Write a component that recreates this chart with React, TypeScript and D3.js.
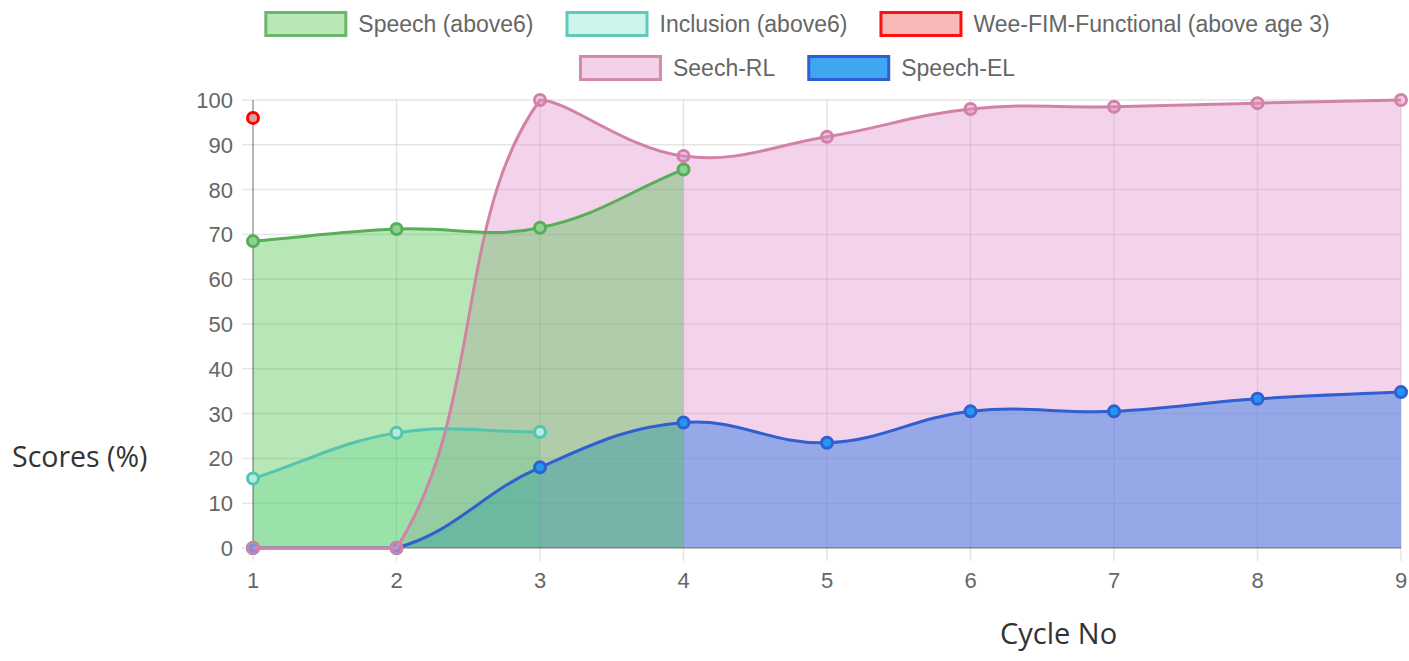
import React, { useEffect, useRef } from "react";
import * as d3 from "d3";

const cycles = [1, 2, 3, 4, 5, 6, 7, 8, 9];
const speech = [68.5, 71.2, 71.5, 84.5];
const inclusion = [15.5, 25.7, 25.9];
const weeFim = [96];
const seechRL = [0, 0, 100, 87.5, 91.8, 98, 98.5, 99.3, 100];
const speechEL = [0, 0, 18, 28, 23.5, 30.5, 30.5, 33.3, 34.8];
const yTicks = [0, 10, 20, 30, 40, 50, 60, 70, 80, 90, 100];

const W = 1409;
const H = 661;

type Pt = { x: number; y: number };

// chart.js style spline (tension 0.4, control points capped to chart area)
function splinePath(pts: Pt[], t: number, area: { l: number; r: number; t: number; b: number }) {
  const cap = (p: Pt) => ({
    x: Math.max(area.l, Math.min(area.r, p.x)),
    y: Math.max(area.t, Math.min(area.b, p.y)),
  });
  const cps = pts.map((cur, i) => {
    const prev = pts[i - 1] || cur;
    const next = pts[i + 1] || cur;
    const d01 = Math.hypot(cur.x - prev.x, cur.y - prev.y);
    const d12 = Math.hypot(next.x - cur.x, next.y - cur.y);
    let s01 = d01 / (d01 + d12);
    let s12 = d12 / (d01 + d12);
    if (isNaN(s01)) s01 = 0;
    if (isNaN(s12)) s12 = 0;
    const fa = t * s01;
    const fb = t * s12;
    return {
      p: cap({ x: cur.x - fa * (next.x - prev.x), y: cur.y - fa * (next.y - prev.y) }),
      n: cap({ x: cur.x + fb * (next.x - prev.x), y: cur.y + fb * (next.y - prev.y) }),
    };
  });
  const path = d3.path();
  pts.forEach((p, i) => {
    if (i === 0) path.moveTo(p.x, p.y);
    else path.bezierCurveTo(cps[i - 1].n.x, cps[i - 1].n.y, cps[i].p.x, cps[i].p.y, p.x, p.y);
  });
  return path.toString();
}

// drawn bottom to top
const series = [
  { name: "Seech-RL", data: seechRL, line: "#d283a5", area: "rgba(225,142,207,0.4)", point: "rgba(225,142,207,0.45)", legendFill: "#f3d1eb", legendStroke: "#d48aa9" },
  { name: "Speech-EL", data: speechEL, line: "#2f5fd0", area: "rgba(57,126,228,0.5)", point: "#2196f3", legendFill: "#3fa6f2", legendStroke: "#2f5fd0" },
  { name: "Wee-FIM-Functional (above age 3)", data: weeFim, line: "#ff0000", area: "none", point: "#d9a0a0", legendFill: "#f8b9b9", legendStroke: "#ff1010" },
  { name: "Inclusion (above6)", data: inclusion, line: "#55c4ad", area: "rgba(67,215,167,0.25)", point: "#b4ebdf", legendFill: "#ccf5ee", legendStroke: "#62c9b8" },
  { name: "Speech (above6)", data: speech, line: "#58ad58", area: "rgba(75,195,75,0.4)", point: "#8fd28f", legendFill: "#b8e7b8", legendStroke: "#6cb66c" },
];
// line order (bottom to top)
const lineOrder = ["Speech-EL", "Seech-RL", "Wee-FIM-Functional (above age 3)", "Inclusion (above6)", "Speech (above6)"];

const legendRows = [
  ["Speech (above6)", "Inclusion (above6)", "Wee-FIM-Functional (above age 3)"],
  ["Seech-RL", "Speech-EL"],
];

const App = () => {
  const ref = useRef<SVGSVGElement>(null);

  useEffect(() => {
    const svg = d3.select(ref.current);
    svg.selectAll("*").remove();

    const left = 253;
    const right = 1401;
    const top = 100;
    const bottom = 548;
    const x = d3.scaleLinear().domain([1, 9]).range([left, right]);
    const y = d3.scaleLinear().domain([0, 100]).range([bottom, top]);
    const area = { l: left, r: right, t: top, b: bottom };

    const font = "'Liberation Sans', Arial, sans-serif";
    const byName = new Map(series.map((s) => [s.name, s]));

    // grid
    const grid = svg.append("g");
    grid
      .selectAll("line.h")
      .data(yTicks)
      .enter()
      .append("line")
      .attr("x1", left - 11)
      .attr("x2", right)
      .attr("y1", (d) => y(d))
      .attr("y2", (d) => y(d))
      .attr("stroke", "rgba(0,0,0,0.1)")
      .attr("stroke-width", 1.5);
    grid
      .selectAll("line.v")
      .data(cycles)
      .enter()
      .append("line")
      .attr("x1", (d) => x(d))
      .attr("x2", (d) => x(d))
      .attr("y1", top)
      .attr("y2", bottom + 13)
      .attr("stroke", "rgba(0,0,0,0.1)")
      .attr("stroke-width", 1.5);

    // areas
    const areas = svg.append("g");
    series.forEach((s) => {
      if (s.area === "none" || s.data.length < 2) return;
      const pts = s.data.map((v, i) => ({ x: x(cycles[i]), y: y(v) }));
      const d =
        splinePath(pts, 0.4, area) +
        `L${pts[pts.length - 1].x},${y(0)}L${pts[0].x},${y(0)}Z`;
      areas.append("path").attr("d", d).attr("fill", s.area);
    });

    // axis lines
    svg
      .append("line")
      .attr("x1", left)
      .attr("x2", left)
      .attr("y1", top)
      .attr("y2", bottom)
      .attr("stroke", "rgba(0,0,0,0.3)")
      .attr("stroke-width", 1.5);
    svg
      .append("line")
      .attr("x1", left)
      .attr("x2", right)
      .attr("y1", bottom)
      .attr("y2", bottom)
      .attr("stroke", "rgba(0,0,0,0.25)")
      .attr("stroke-width", 1.5);

    // lines and points
    const lines = svg.append("g");
    lineOrder.forEach((name) => {
      const s = byName.get(name)!;
      const pts = s.data.map((v, i) => ({ x: x(cycles[i]), y: y(v) }));
      if (pts.length > 1) {
        lines
          .append("path")
          .attr("d", splinePath(pts, 0.4, area))
          .attr("fill", "none")
          .attr("stroke", s.line)
          .attr("stroke-width", 3);
      }
      lines
        .append("g")
        .selectAll("circle")
        .data(pts)
        .enter()
        .append("circle")
        .attr("cx", (d) => d.x)
        .attr("cy", (d) => d.y)
        .attr("r", 5.5)
        .attr("fill", s.point)
        .attr("stroke", s.line)
        .attr("stroke-width", 3);
    });

    // tick labels
    svg
      .append("g")
      .attr("font-family", font)
      .attr("font-size", 22)
      .attr("fill", "#666")
      .attr("text-anchor", "end")
      .selectAll("text")
      .data(yTicks)
      .enter()
      .append("text")
      .attr("x", left - 20)
      .attr("y", (d) => y(d))
      .attr("dy", "0.36em")
      .text((d) => d);
    svg
      .append("g")
      .attr("font-family", font)
      .attr("font-size", 22)
      .attr("fill", "#666")
      .attr("text-anchor", "middle")
      .selectAll("text")
      .data(cycles)
      .enter()
      .append("text")
      .attr("x", (d) => x(d))
      .attr("y", bottom + 40)
      .text((d) => d);

    // legend
    const rowY = [11, 55];
    const boxW = 83;
    const gap = 11;
    const itemGap = 32;
    const leg = svg.append("g").attr("font-family", font).attr("font-size", 23).attr("fill", "#666");
    legendRows.forEach((row, ri) => {
      const g = leg.append("g");
      let cx = 0;
      row.forEach((name) => {
        const s = byName.get(name)!;
        g.append("rect")
          .attr("x", cx + 1.5)
          .attr("y", rowY[ri] + 1.5)
          .attr("width", boxW - 3)
          .attr("height", 23)
          .attr("fill", s.legendFill)
          .attr("stroke", s.legendStroke)
          .attr("stroke-width", 3);
        const t = g
          .append("text")
          .attr("x", cx + boxW + gap)
          .attr("y", rowY[ri] + 13)
          .attr("dy", "0.36em")
          .text(name);
        const w = (t.node() as SVGTextElement).getComputedTextLength();
        cx += boxW + gap + w + itemGap;
      });
      const total = cx - itemGap;
      g.attr("transform", `translate(${797 - total / 2},0)`);
    });

    // axis titles
    const titleFont = "'Open Sans', 'Noto Sans', sans-serif";
    svg
      .append("text")
      .attr("x", 12)
      .attr("y", 457)
      .attr("dy", "0.36em")
      .attr("font-family", titleFont)
      .attr("font-size", 28.5)
      .attr("fill", "#333")
      .text("Scores (%)");
    svg
      .append("text")
      .attr("x", 1000)
      .attr("y", 634)
      .attr("dy", "0.36em")
      .attr("font-family", titleFont)
      .attr("font-size", 29)
      .attr("fill", "#333")
      .text("Cycle No");
  }, []);

  return (
    <svg
      ref={ref}
      width={W}
      height={H}
      style={{ position: "absolute", left: 0, top: 0, background: "#fff" }}
    />
  );
};

export default App;
